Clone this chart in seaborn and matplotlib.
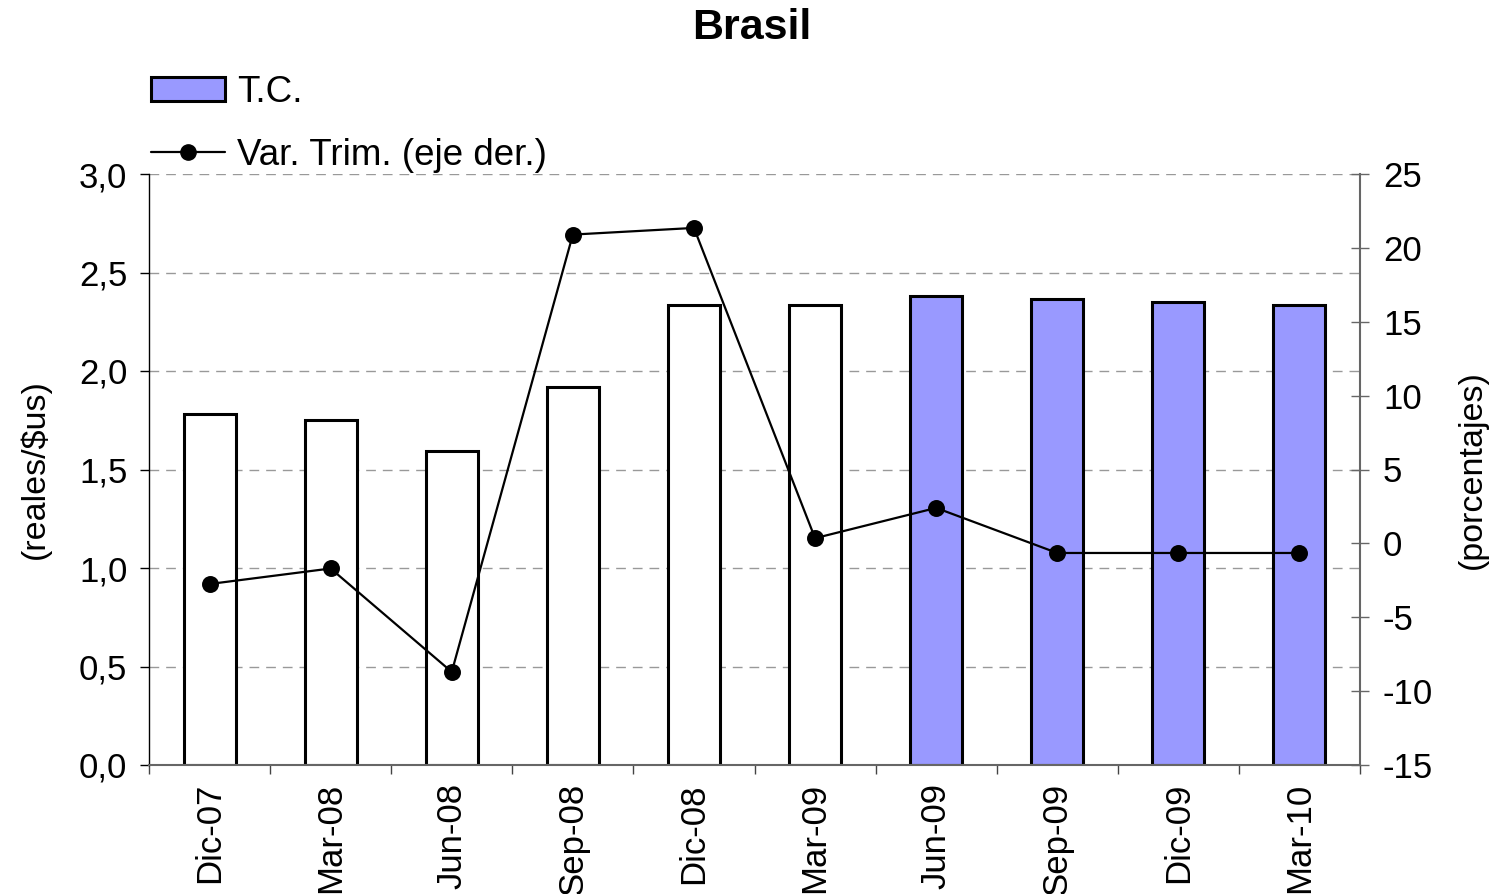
import numpy as np
import pandas as pd
import matplotlib
matplotlib.use("Agg")
import matplotlib.pyplot as plt
import seaborn as sns
from matplotlib.patches import Patch
from matplotlib.lines import Line2D
from matplotlib.ticker import FuncFormatter, FixedLocator

# ==========================
# Data
# ==========================

fechas = ["Dic-07", "Mar-08", "Jun-08", "Sep-08", "Dic-08",
          "Mar-09", "Jun-09", "Sep-09", "Dic-09", "Mar-10"]
tipo_cambio = [1.78, 1.75, 1.595, 1.92, 2.335, 2.335, 2.38, 2.365, 2.35, 2.335]
var_trim = [-2.75, -1.7, -8.7, 20.9, 21.35, 0.35, 2.4, -0.65, -0.65, -0.65]
proyectado = [False, False, False, False, False, False, True, True, True, True]

COLOR_PROY = "#9999FF"

df = pd.DataFrame({"fecha": fechas, "tc": tipo_cambio, "var": var_trim})

# ==========================
# Style
# ==========================

sns.set_style("white")
plt.rcParams["font.family"] = ["Liberation Sans", "DejaVu Sans"]
plt.rcParams["axes.unicode_minus"] = False
plt.rcParams["text.color"] = "black"
plt.rcParams["axes.labelcolor"] = "black"
plt.rcParams["xtick.labelcolor"] = "black"
plt.rcParams["ytick.labelcolor"] = "black"

fig = plt.figure(figsize=(14.93, 8.94), dpi=100)
ax = fig.add_axes([149 / 1493, 1 - 765 / 894, (1360 - 149) / 1493, (765 - 174) / 894])

colores = [COLOR_PROY if p else "white" for p in proyectado]

sns.barplot(
    data=df, x="fecha", y="tc", hue="fecha",
    palette=colores, legend=False, ax=ax,
    width=0.43, edgecolor="black", linewidth=2.2, saturation=1,
    zorder=2
)

ax.set_xlim(-0.5, len(fechas) - 0.5)
ax.set_ylim(0, 3.0)
ax.set_yticks(np.arange(0, 3.01, 0.5))
ax.yaxis.set_major_formatter(FuncFormatter(lambda v, p: f"{v:.1f}".replace(".", ",")))
ax.yaxis.grid(True, linestyle=(0, (7, 5)), color="#999999", linewidth=1, zorder=0)
ax.set_axisbelow(True)

ax.set_xlabel("")
ax.set_ylabel("(reales/$us)", fontsize=24.5, labelpad=20)

ax.tick_params(axis="y", which="major", left=True, direction="out", length=6.5,
               width=1, color="black", labelsize=25, pad=9)
ax.tick_params(axis="x", which="major", length=0, labelsize=25, pad=13, rotation=90)
ax.xaxis.set_minor_locator(FixedLocator(np.arange(-0.5, len(fechas), 1.0)))
ax.tick_params(axis="x", which="minor", bottom=True, direction="out", length=6.5,
               width=1, color="#444444")

for s in ["top", "right"]:
    ax.spines[s].set_visible(False)
ax.spines["left"].set_color("black")
ax.spines["left"].set_linewidth(1)
ax.spines["bottom"].set_color("#666666")
ax.spines["bottom"].set_linewidth(1.5)

# --------------------------
# Right axis
# --------------------------

ax2 = ax.twinx()
sns.pointplot(
    data=df, x="fecha", y="var", ax=ax2,
    color="black", markers="o", markersize=11, linewidth=1.6, errorbar=None
)
ax2.set_xlim(-0.5, len(fechas) - 0.5)
ax2.set_ylim(-15, 25)
ax2.set_yticks(np.arange(-15, 26, 5))
ax2.set_ylabel("(porcentajes)", fontsize=24.5, labelpad=17)
ax2.set_xlabel("")
ax2.tick_params(axis="y", right=True, direction="inout", length=13, width=1,
                color="#666666", labelsize=25, pad=10)
for s in ["top", "left", "bottom"]:
    ax2.spines[s].set_visible(False)
ax2.spines["right"].set_color("#666666")
ax2.spines["right"].set_linewidth(1.5)

# --------------------------
# Title / Legend
# --------------------------

fig.text(752 / 1493, 1 - 28 / 894, "Brasil", ha="center", va="center",
         fontsize=31, fontweight="bold")

handles = [
    Patch(facecolor=COLOR_PROY, edgecolor="black", linewidth=2.2, label="T.C."),
    Line2D([0], [0], color="black", linewidth=1.6, marker="o", markersize=11,
           label="Var. Trim. (eje der.)"),
]
fig.legend(
    handles=handles, loc="upper left",
    bbox_to_anchor=(151 / 1493, 1 - 75 / 894),
    frameon=False, fontsize=26.5, handlelength=2.0, handleheight=0.6,
    handletextpad=0.35, labelspacing=0.75, borderpad=0, borderaxespad=0
)

fig.savefig("out.png", dpi=100)
